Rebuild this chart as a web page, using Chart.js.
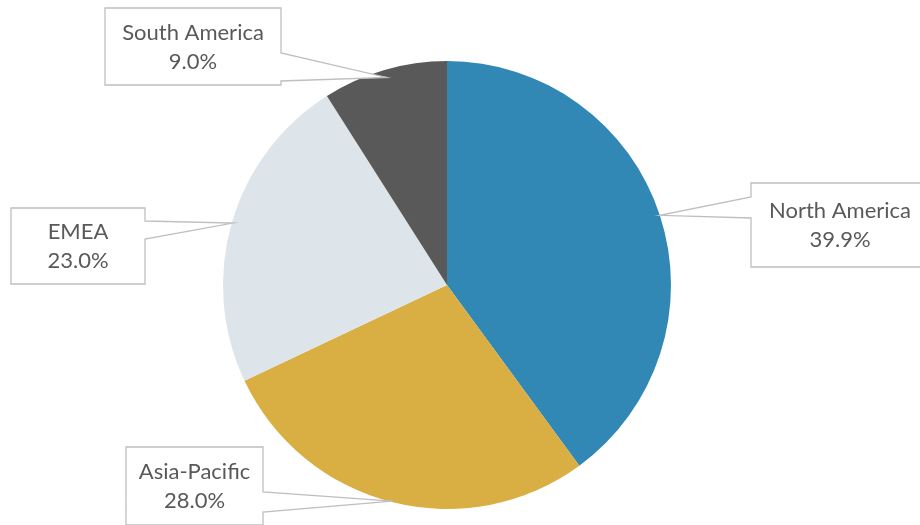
<!DOCTYPE html>
<html>
<head>
<meta charset="utf-8">
<script src="https://cdn.jsdelivr.net/npm/chart.js@4.4.1/dist/chart.umd.min.js"></script>
<style>
  html, body { margin: 0; padding: 0; background: #fff; }
  #box { width: 920px; height: 525px; position: relative; }
</style>
</head>
<body>
<div id="box"><canvas id="regionPie"></canvas></div>
<script>
const regions = ["North America", "Asia-Pacific", "EMEA", "South America"];
const shares = [39.9, 28.0, 23.0, 9.0];
const sliceColors = ["#3288b4", "#d9ae42", "#dee5ea", "#595959"];

// callout boxes: x, y, w, h, side the wedge leaves from, wedge base (offsets along that side), tip radius factor
const callouts = [
  { x: 751, y: 183, w: 178, h: 84, side: "left",  base: [14, 35], tipR: 1.0 },
  { x: 126, y: 447, w: 137, h: 78, side: "right", base: [45, 65], tipR: 0.995 },
  { x: 11,  y: 208, w: 134, h: 76, side: "right", base: [13, 31], tipR: 0.995 },
  { x: 105, y: 8,   w: 176, h: 77, side: "right", base: [45, 73], tipR: 0.965 }
];

const calloutPlugin = {
  id: "callouts",
  afterDatasetsDraw(chart) {
    const ctx = chart.ctx;
    const arcs = chart.getDatasetMeta(0).data;
    ctx.save();
    arcs.forEach((arc, i) => {
      const c = callouts[i];
      const p = arc.getProps(["x", "y", "startAngle", "endAngle", "outerRadius"], true);
      const mid = (p.startAngle + p.endAngle) / 2;
      const tx = p.x + Math.cos(mid) * p.outerRadius * c.tipR;
      const ty = p.y + Math.sin(mid) * p.outerRadius * c.tipR;
      const x0 = c.x, y0 = c.y, x1 = c.x + c.w, y1 = c.y + c.h;

      ctx.beginPath();
      ctx.moveTo(x0, y0);
      ctx.lineTo(x1, y0);
      if (c.side === "right") {
        ctx.lineTo(x1, y0 + c.base[0]);
        ctx.lineTo(tx, ty);
        ctx.lineTo(x1, y0 + c.base[1]);
      }
      ctx.lineTo(x1, y1);
      ctx.lineTo(x0, y1);
      if (c.side === "left") {
        ctx.lineTo(x0, y0 + c.base[1]);
        ctx.lineTo(tx, ty);
        ctx.lineTo(x0, y0 + c.base[0]);
      }
      ctx.closePath();
      ctx.fillStyle = "#ffffff";
      ctx.fill();
      ctx.strokeStyle = "#bfbfbf";
      ctx.lineWidth = 1.3;
      ctx.stroke();

      const cx = x0 + c.w / 2;
      const cy = y0 + c.h / 2;
      ctx.fillStyle = "#595959";
      ctx.font = "22px Lato, 'Open Sans', sans-serif";
      ctx.textAlign = "center";
      ctx.textBaseline = "middle";
      ctx.fillText(regions[i], cx, cy - 14);
      ctx.fillText(shares[i].toFixed(1) + "%", cx, cy + 15);
    });
    ctx.restore();
  }
};

new Chart("regionPie", {
  type: "pie",
  data: {
    labels: regions,
    datasets: [{
      data: shares,
      backgroundColor: sliceColors,
      borderWidth: 0
    }]
  },
  options: {
    responsive: true,
    maintainAspectRatio: false,
    animation: false,
    layout: { padding: { top: 61, bottom: 16, left: 0, right: 26 } },
    plugins: {
      legend: { display: false },
      tooltip: { enabled: false }
    }
  },
  plugins: [calloutPlugin]
});
</script>
</body>
</html>
